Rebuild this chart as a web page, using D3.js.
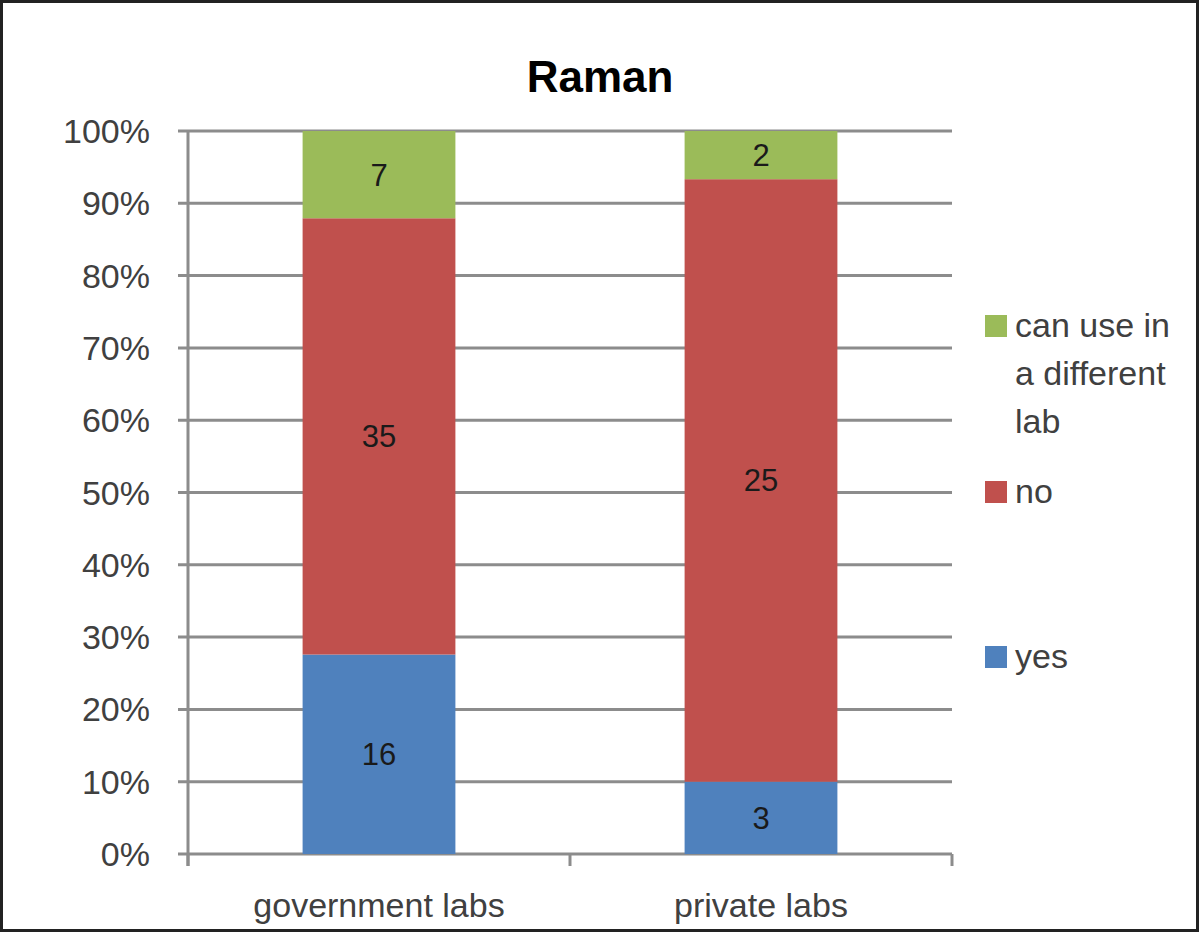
<!DOCTYPE html>
<html>
<head>
<meta charset="utf-8">
<script src="https://cdn.jsdelivr.net/npm/d3@7"></script>
<style>
  body { margin: 0; background: #fff; }
  text { font-family: "Liberation Sans", Arial, sans-serif; fill: #1a1a1a; }
</style>
</head>
<body>
<div id="chart"></div>
<script>
// Data
var categories = ["government labs", "private labs"];
var seriesKeys = ["yes", "no", "can use"];
var yesCounts = [16, 3];
var noCounts = [35, 25];
var canUseCounts = [7, 2];
var yTicks = [0, 0.1, 0.2, 0.3, 0.4, 0.5, 0.6, 0.7, 0.8, 0.9, 1];
var legendLabels = [["can use in", "a different", "lab"], ["no"], ["yes"]];
var colors = ["#4F81BD", "#C0504D", "#9BBB59"];

var w = 1200, h = 933;
var plotLeft = 188, plotRight = 952, plotTop = 131, plotBottom = 854;

var svg = d3.select("#chart").append("svg")
    .attr("width", w)
    .attr("height", h);

// outer frame
svg.append("rect")
    .attr("x", 1.5).attr("y", 1.5)
    .attr("width", w - 4).attr("height", h - 4)
    .attr("fill", "#fff")
    .attr("stroke", "#222")
    .attr("stroke-width", 3);

var rows = categories.map(function (c, i) {
    return { cat: c, "yes": yesCounts[i], "no": noCounts[i], "can use": canUseCounts[i] };
});

var stacked = d3.stack().keys(seriesKeys).offset(d3.stackOffsetExpand)(rows);

var x = d3.scaleBand().domain(categories).range([plotLeft, plotRight]).paddingInner(0.6).paddingOuter(0.3);
var y = d3.scaleLinear().domain([0, 1]).range([plotBottom, plotTop]);

// gridlines
svg.append("g").selectAll("line")
    .data(yTicks)
    .enter().append("line")
    .attr("x1", plotLeft - 10).attr("x2", plotRight)
    .attr("y1", function (d) { return y(d); })
    .attr("y2", function (d) { return y(d); })
    .attr("stroke", "#8c8c8c")
    .attr("stroke-width", 3);

// y axis labels
svg.append("g").selectAll("text")
    .data(yTicks)
    .enter().append("text")
    .attr("x", 150)
    .attr("y", function (d) { return y(d) + 12; })
    .attr("text-anchor", "end")
    .style("font-size", "34px")
    .style("fill", "#404040")
    .text(d3.format(".0%"));

// bars
var groups = svg.append("g").selectAll("g")
    .data(stacked)
    .enter().append("g")
    .attr("fill", function (d, i) { return colors[i]; });

groups.selectAll("rect")
    .data(function (d) { return d; })
    .enter().append("rect")
    .attr("x", function (d) { return x(d.data.cat); })
    .attr("width", x.bandwidth())
    .attr("y", function (d) { return y(d[1]); })
    .attr("height", function (d) { return y(d[0]) - y(d[1]); });

// data labels
stacked.forEach(function (s) {
    svg.append("g").selectAll("text")
        .data(s)
        .enter().append("text")
        .attr("x", function (d) { return x(d.data.cat) + x.bandwidth() / 2; })
        .attr("y", function (d) { return (y(d[0]) + y(d[1])) / 2 + 11; })
        .attr("text-anchor", "middle")
        .style("font-size", "31px")
        .text(function (d) { return d.data[s.key]; });
});

// axes lines
svg.append("line")
    .attr("x1", plotLeft).attr("x2", plotLeft)
    .attr("y1", plotTop).attr("y2", plotBottom + 12)
    .attr("stroke", "#8c8c8c").attr("stroke-width", 3);

var xTicks = [plotLeft, (plotLeft + plotRight) / 2, plotRight];
svg.append("g").selectAll("line")
    .data(xTicks)
    .enter().append("line")
    .attr("x1", function (d) { return d; })
    .attr("x2", function (d) { return d; })
    .attr("y1", plotBottom).attr("y2", plotBottom + 12)
    .attr("stroke", "#8c8c8c").attr("stroke-width", 3);

// category labels
svg.append("g").selectAll("text")
    .data(categories)
    .enter().append("text")
    .attr("x", function (d) { return x(d) + x.bandwidth() / 2; })
    .attr("y", 917)
    .attr("text-anchor", "middle")
    .style("font-size", "34px")
    .style("fill", "#404040")
    .text(function (d) { return d; });

// title
svg.append("text")
    .attr("x", 600).attr("y", 92)
    .attr("text-anchor", "middle")
    .style("font-size", "44px")
    .style("font-weight", "bold")
    .style("fill", "#000")
    .text("Raman");

// legend
var legendY = [337, 503, 668];
var legendColors = [colors[2], colors[1], colors[0]];
legendLabels.forEach(function (lines, i) {
    var g = svg.append("g");
    g.append("rect")
        .attr("x", 985).attr("y", legendY[i] - 22)
        .attr("width", 22).attr("height", 22)
        .attr("fill", legendColors[i]);
    g.selectAll("text")
        .data(lines)
        .enter().append("text")
        .attr("x", 1015)
        .attr("y", function (d, j) { return legendY[i] + j * 48; })
        .style("font-size", "34px")
        .style("fill", "#404040")
        .text(function (d) { return d; });
});
</script>
</body>
</html>
